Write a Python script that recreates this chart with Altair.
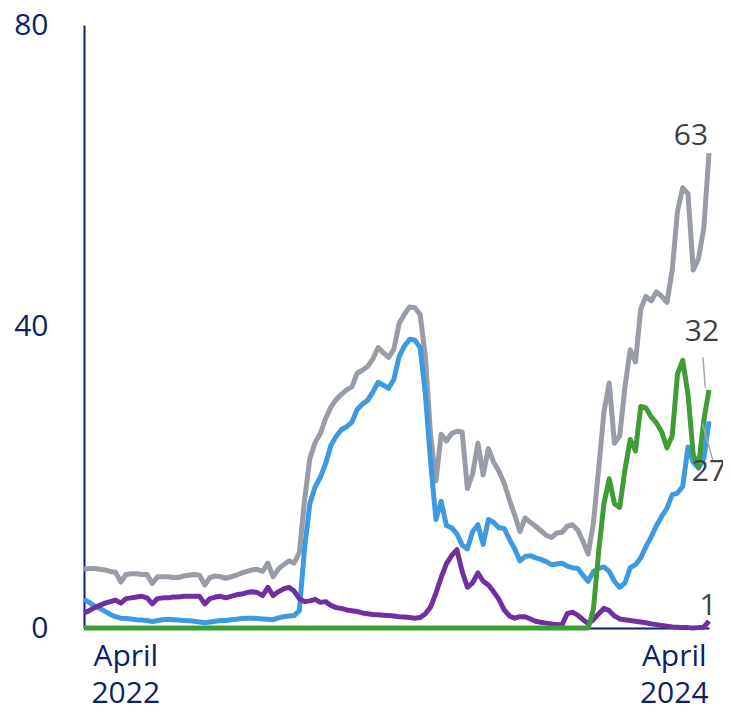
import altair as alt
import pandas as pd

# Weekly observations, Feb 2022 - May 2024
start_date = "2022-02-05"

grey = [7.8, 7.9, 7.9, 7.8, 7.7, 7.5, 7.4, 6.1, 7.1, 7.2,
        7.2, 7.1, 7.1, 5.9, 6.8, 6.8, 6.8, 6.7, 6.7, 6.9,
        7.0, 7.1, 7.0, 5.7, 6.7, 6.9, 6.8, 6.6, 6.8, 7.0,
        7.3, 7.5, 7.7, 7.8, 7.5, 8.6, 6.8, 7.8, 8.4, 8.9,
        8.6, 10.0, 17.0, 22.5, 24.6, 25.8, 27.8, 29.3, 30.3, 31.0,
        31.6, 32.0, 33.8, 34.2, 34.7, 35.7, 37.2, 36.5, 35.9, 37.0,
        40.4, 41.6, 42.6, 42.5, 41.6, 36.0, 25.5, 19.5, 25.7, 24.8,
        25.8, 26.1, 26.0, 18.5, 20.5, 24.5, 20.3, 23.8, 22.0, 20.8,
        19.2, 17.0, 15.0, 12.8, 14.6, 14.0, 13.5, 12.9, 12.3, 12.0,
        12.6, 12.7, 13.5, 13.7, 13.0, 11.5, 9.8, 14.0, 21.2, 28.7,
        32.5, 24.5, 25.5, 32.0, 36.9, 35.3, 42.3, 44.0, 43.4, 44.6,
        44.0, 43.2, 47.5, 55.3, 58.4, 57.6, 47.5, 49.0, 53.0, 63.0]

blue = [3.8, 3.4, 2.9, 2.6, 2.2, 1.8, 1.5, 1.3, 1.25, 1.2,
        1.1, 1.05, 1.0, 0.85, 1.0, 1.1, 1.15, 1.1, 1.05, 1.0,
        0.95, 0.9, 0.8, 0.7, 0.8, 0.9, 1.0, 1.0, 1.1, 1.15,
        1.25, 1.3, 1.3, 1.25, 1.2, 1.15, 1.1, 1.35, 1.5, 1.6,
        1.65, 2.3, 10.6, 16.5, 18.7, 20.0, 21.8, 24.2, 25.4, 26.3,
        26.7, 27.3, 29.0, 29.7, 30.2, 31.3, 32.6, 32.2, 31.8, 33.0,
        36.0, 37.4, 38.3, 38.2, 37.2, 31.0, 22.0, 14.4, 16.8, 13.6,
        13.3, 12.5, 11.0, 10.5, 12.8, 13.7, 11.1, 14.4, 14.0, 13.3,
        13.2, 11.8, 10.5, 8.9, 9.5, 9.6, 9.3, 9.1, 8.8, 8.4,
        8.5, 8.6, 8.2, 8.0, 7.9, 7.0, 6.2, 7.5, 7.9, 8.1,
        7.5, 6.2, 5.4, 6.0, 8.0, 8.4, 9.3, 10.8, 12.1, 13.6,
        14.8, 15.9, 17.7, 17.9, 18.8, 24.0, 22.0, 21.2, 22.5, 27.4]

purple = [2.0, 2.3, 2.7, 3.0, 3.3, 3.5, 3.7, 3.3, 3.9, 4.0,
          4.1, 4.2, 4.0, 3.2, 3.9, 4.0, 4.0, 4.1, 4.1, 4.2,
          4.2, 4.2, 4.2, 3.2, 3.9, 4.1, 4.2, 4.0, 4.2, 4.4,
          4.5, 4.7, 4.8, 4.7, 4.3, 5.4, 4.3, 4.8, 5.2, 5.4,
          4.9, 3.9, 3.5, 3.6, 3.8, 3.4, 3.5, 3.0, 2.7, 2.6,
          2.4, 2.3, 2.2, 2.0, 1.9, 1.8, 1.75, 1.7, 1.65, 1.6,
          1.5, 1.45, 1.4, 1.3, 1.4, 1.9, 2.8, 4.6, 6.7, 8.5,
          9.6, 10.4, 7.5, 5.4, 6.0, 7.3, 6.2, 5.7, 4.8, 3.8,
          2.4, 1.6, 1.3, 1.5, 1.5, 1.2, 0.9, 0.75, 0.65, 0.55,
          0.45, 0.4, 1.9, 2.1, 1.7, 1.1, 0.6, 1.1, 1.9, 2.6,
          2.3, 1.6, 1.2, 1.1, 1.0, 0.9, 0.8, 0.7, 0.55, 0.45,
          0.35, 0.25, 0.15, 0.1, 0.05, 0.05, 0.0, 0.05, 0.1, 0.9]

green = [0, 0, 0, 0, 0, 0, 0, 0, 0, 0,
         0, 0, 0, 0, 0, 0, 0, 0, 0, 0,
         0, 0, 0, 0, 0, 0, 0, 0, 0, 0,
         0, 0, 0, 0, 0, 0, 0, 0, 0, 0,
         0, 0, 0, 0, 0, 0, 0, 0, 0, 0,
         0, 0, 0, 0, 0, 0, 0, 0, 0, 0,
         0, 0, 0, 0, 0, 0, 0, 0, 0, 0,
         0, 0, 0, 0, 0, 0, 0, 0, 0, 0,
         0, 0, 0, 0, 0, 0, 0, 0, 0, 0,
         0, 0, 0, 0, 0, 0, 0, 2.5, 10.2, 16.5,
         19.8, 16.5, 16.0, 21.0, 25.0, 23.5, 29.4, 29.2, 28.0, 27.2,
         26.0, 23.9, 25.5, 33.7, 35.5, 31.0, 23.0, 21.4, 27.5, 31.6]

series_names = ["grey", "blue", "purple", "green"]
series_values = [grey, blue, purple, green]
series_colors = ["#979ca6", "#3d9ae0", "#7030a0", "#3f9d35"]

# end labels, in the same order as the series above
end_labels = ["63", "27", "1", "32"]
# label offsets (pixels) relative to the series' last point
label_dx = [-18, 0, -1, -7]
label_dy = [-17, 51, -15, -58]

# leader lines (days from last date, value)
leader_series = ["32", "32", "27", "27"]
leader_days = [-8, -5, -9, 5]
leader_vals = [35.9, 31.9, 27.2, 22.3]

navy = "#0b2266"
label_grey = "#3f3f3f"
font = "Open Sans"

dates = pd.date_range(start_date, periods=len(grey), freq="7D")
date_str = [d.strftime("%Y-%m-%dT00:00:00") for d in dates]
last = dates[-1]

x_scale = alt.Scale(domain=[alt.DateTime(year=dates[0].year, month=dates[0].month, date=dates[0].day),
                            alt.DateTime(year=last.year, month=last.month, date=last.day)])
y_scale = alt.Scale(domain=[0, 80], nice=False)

x_enc = alt.X(
    "date:T", scale=x_scale, title=None,
    axis=alt.Axis(
        values=[alt.DateTime(year=2022, month=4, date=1), alt.DateTime(year=2024, month=4, date=1)],
        labelExpr="[timeFormat(datum.value, '%B'), timeFormat(datum.value, '%Y')]",
        ticks=False, grid=False, domainColor=navy, domainWidth=2,
        labelColor=navy, labelFont=font, labelFontSize=30, labelPadding=13,
        labelLineHeight=37, labelAlign="center", labelBaseline="top", labelFlush=False,
    ),
)
y_enc = alt.Y(
    "value:Q", scale=y_scale, title=None,
    axis=alt.Axis(
        values=[0, 40, 80], ticks=False, grid=False, domainColor=navy, domainWidth=2,
        labelColor=navy, labelFont=font, labelFontSize=30, labelPadding=36,
        labelFlush=False,
    ),
)

layers = []
for name, vals, col in zip(series_names, series_values, series_colors):
    d = pd.DataFrame({"date": date_str, "value": vals})
    layers.append(
        alt.Chart(d).mark_line(color=col, strokeWidth=5, strokeJoin="round")
        .encode(x=x_enc, y=y_enc)
    )

# leader lines
for lab in ["32", "27"]:
    idx = [i for i, s in enumerate(leader_series) if s == lab]
    ld = pd.DataFrame({
        "date": [(last + pd.Timedelta(days=leader_days[idx[0]])).strftime("%Y-%m-%dT%H:%M:%S")],
        "date2": [(last + pd.Timedelta(days=leader_days[idx[1]])).strftime("%Y-%m-%dT%H:%M:%S")],
        "value": [leader_vals[idx[0]]],
        "value2": [leader_vals[idx[1]]],
    })
    layers.append(
        alt.Chart(ld).mark_rule(color="#a6a6a6", strokeWidth=1.5)
        .encode(x=x_enc, x2="date2:T", y=y_enc, y2="value2:Q")
    )

# end labels
for lab, vals, dx, dy in zip(end_labels, series_values, label_dx, label_dy):
    td = pd.DataFrame({"date": [date_str[-1]], "value": [vals[-1]], "text": [lab]})
    layers.append(
        alt.Chart(td).mark_text(
            dx=dx, dy=dy, align="center", baseline="middle",
            font=font, fontSize=30, color=label_grey,
        ).encode(x=x_enc, y=y_enc, text="text:N")
    )

chart = alt.layer(*layers).properties(
    width=625, height=603,
    autosize=alt.AutoSizeParams(type="none"),
    padding={"left": 76, "top": 17, "right": 14, "bottom": 78},
).configure_view(stroke=None)

chart.save("out.html", embed_options={"renderer": "svg", "actions": False})
